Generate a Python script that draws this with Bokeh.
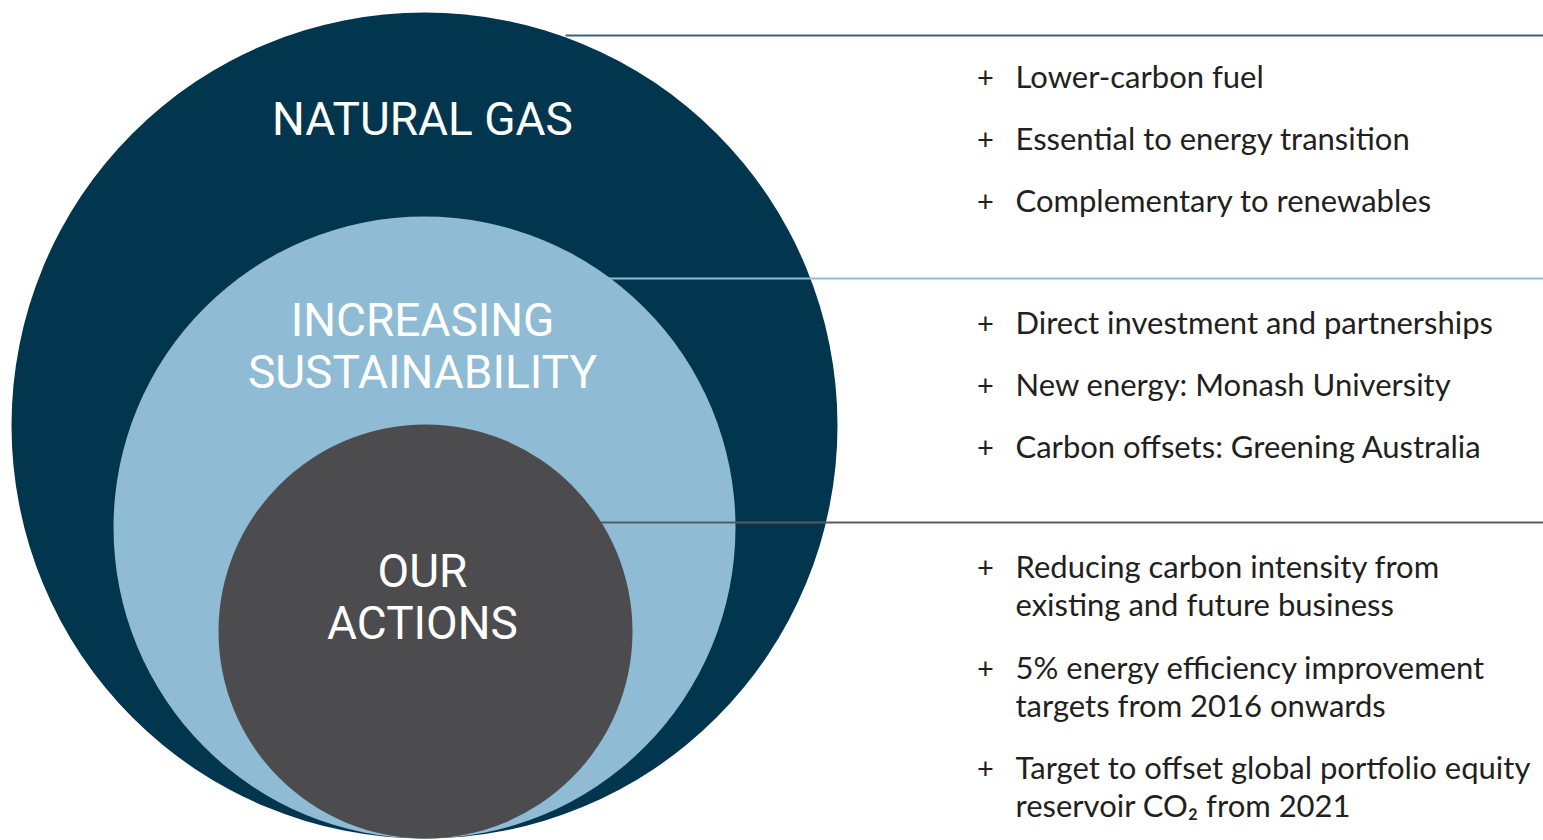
from bokeh.plotting import figure
from bokeh.models import Range1d
from bokeh.core.properties import value
from bokeh.embed import file_html
from bokeh.resources import INLINE

# ---- data ----
circle_names = ["NATURAL GAS", "INCREASING SUSTAINABILITY", "OUR ACTIONS"]
circle_title_lines = [["NATURAL GAS"], ["INCREASING", "SUSTAINABILITY"], ["OUR", "ACTIONS"]]
circle_colors = ["#02364e", "#8fbcd4", "#4c4c4e"]
rule_colors = ["#3a627a", "#8fbcd4", "#5a5a5c"]

natural_gas_points = ["Lower-carbon fuel",
                      "Essential to energy transition",
                      "Complementary to renewables"]
sustainability_points = ["Direct investment and partnerships",
                         "New energy: Monash University",
                         "Carbon offsets: Greening Australia"]
action_points = [["Reducing carbon intensity from", "existing and future business"],
                 ["5% energy efficiency improvement", "targets from 2016 onwards"],
                 ["Target to offset global portfolio equity", "reservoir CO\u2082 from 2021"]]

# ---- layout (page pixels) ----
W, H = 1543, 840
p = figure(width=W, height=H, output_backend="svg", toolbar_location=None,
           x_range=Range1d(0, W), y_range=Range1d(H, 0),
           x_axis_location=None, y_axis_location=None, min_border=0)
p.grid.visible = False
p.outline_line_color = None
p.background_fill_color = "white"

# nested circles (bottom-aligned)
cx = [424, 424, 425]
cy = [425, 527, 631]
rad = [413, 311, 207]
p.circle(x=cx, y=cy, radius=rad, fill_color=circle_colors, line_color=None)

# horizontal rules
rule_y = [35, 278, 522]
rule_x0 = [565, 607, 600]
for y, x0, c in zip(rule_y, rule_x0, rule_colors):
    p.segment(x0=[x0], y0=[y], x1=[W + 2], y1=[y], line_color=c, line_width=2)

# circle titles
title_font = value("Roboto")
title_pos = [118, 319, 570]
tx, ty, tt = [], [], []
for lines, b in zip(circle_title_lines, title_pos):
    for i, t in enumerate(lines):
        tx.append(422)
        ty.append(b + i * 52)
        tt.append(t)
p.text(x=tx, y=ty, text=tt, text_font=title_font, text_font_size="46px",
       text_color="white", text_align="center", text_baseline="alphabetic")

# bullet points
by, bt, plus_y = [], [], []
for t, b in zip(natural_gas_points, [75, 137, 199]):
    bt.append(t); by.append(b); plus_y.append(b)
for t, b in zip(sustainability_points, [321, 383, 445]):
    bt.append(t); by.append(b); plus_y.append(b)
for lines, b in zip(action_points, [565, 666, 766]):
    plus_y.append(b)
    for i, t in enumerate(lines):
        bt.append(t); by.append(b + i * 38)
bx = [1015] * len(bt)

body_font = value("Lato")
p.text(x=bx, y=by, text=bt, text_font=body_font, text_font_size="31px",
       text_color="#231f20", text_align="left", text_baseline="alphabetic")
p.text(x=[985] * len(plus_y), y=[y + 2 for y in plus_y], text=["+"] * len(plus_y),
       text_font=body_font, text_font_size="29px",
       text_color="#231f20", text_align="center", text_baseline="alphabetic")

open("out.html", "w").write(file_html(p, INLINE))
